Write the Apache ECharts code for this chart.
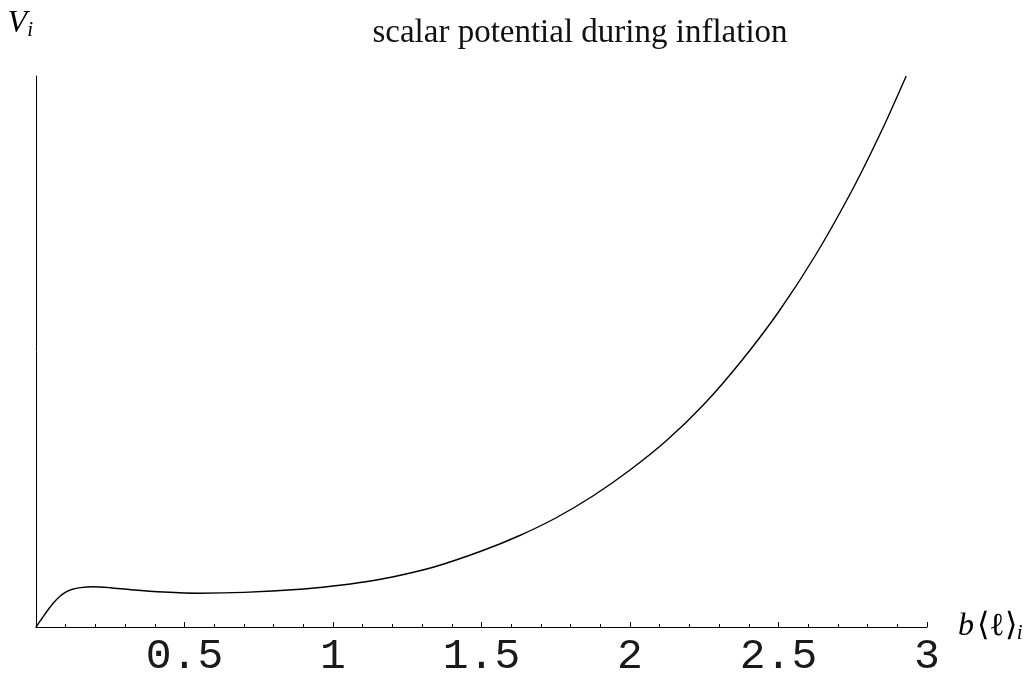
<!DOCTYPE html>
<html>
<head>
<meta charset="utf-8">
<script src="https://cdn.jsdelivr.net/npm/echarts@6/dist/echarts.min.js"></script>
<style>
html,body{margin:0;padding:0;background:#fff;}
#chart{width:1032px;height:681px;}
</style>
</head>
<body>
<div id="chart"></div>
<script>
// b<l>_i values (x) and scalar potential V_i (arbitrary units)
var bValues = [0, 0.02, 0.04, 0.06, 0.08, 0.10, 0.12, 0.15, 0.19, 0.25, 0.32, 0.43, 0.55, 0.70, 0.89, 1.00, 1.11, 1.20, 1.34, 1.50, 1.625, 1.75, 1.875, 2.00, 2.125, 2.25, 2.375, 2.50, 2.625, 2.75, 2.85, 2.93];
var vValues = [0, 8.5, 17, 24.5, 30.5, 34.8, 37.5, 39.4, 40.3, 39.3, 37.3, 35, 33.8, 34.6, 37.7, 41, 45.3, 50, 60, 76, 91, 109, 131, 157, 187, 223, 266, 315, 372, 438, 498, 551];
var xTicks = [0.5, 1, 1.5, 2, 2.5, 3];
var titleText = 'scalar potential during inflation';

var seriesData = bValues.map(function (b, i) { return [b, vValues[i]]; });

var chart = echarts.init(document.getElementById('chart'));
chart.setOption({
  animation: false,
  backgroundColor: '#ffffff',
  title: {
    text: titleText,
    left: 575,
    textAlign: 'center',
    top: 12,
    textStyle: { fontFamily: 'Liberation Serif', fontWeight: 'normal', fontSize: 33, color: '#111' }
  },
  grid: { left: 36, right: 105, top: 76, bottom: 54, outerBoundsMode: 'none' },
  xAxis: {
    type: 'value',
    min: 0,
    max: 3,
    interval: 0.5,
    name: '{a|b} {b|⟨ℓ⟩}{s|i}',
    nameLocation: 'end',
    nameGap: 31,
    nameTextStyle: {
      verticalAlign: 'middle',
      rich: {
        a: { fontFamily: 'Liberation Serif', fontStyle: 'italic', fontSize: 32, color: '#000', lineHeight: 34 },
        b: { fontFamily: 'Liberation Serif', fontSize: 32, color: '#000', lineHeight: 34 },
        s: { fontFamily: 'Liberation Serif', fontStyle: 'italic', fontSize: 21, color: '#000', lineHeight: 22, verticalAlign: 'bottom', padding: [16, 0, 0, 0] }
      }
    },
    axisLine: { show: true, onZero: false, lineStyle: { color: '#000', width: 1 } },
    axisTick: { show: true, inside: true, length: 5, lineStyle: { color: '#000', width: 1 } },
    minorTick: { show: true, splitNumber: 5, length: 3, lineStyle: { color: '#000', width: 1 } },
    splitLine: { show: false },
    axisLabel: {
      margin: 8,
      fontFamily: 'Liberation Mono',
      fontSize: 43,
      color: '#1a1a1a',
      formatter: function (v) {
        for (var i = 0; i < xTicks.length; i++) { if (Math.abs(xTicks[i] - v) < 1e-9) return String(xTicks[i]); }
        return '';
      }
    }
  },
  yAxis: {
    type: 'value',
    min: 0,
    max: 551,
    name: '{a|V}{s|i}',
    nameLocation: 'end',
    nameGap: 35,
    nameTextStyle: {
      align: 'right',
      padding: [0, 3, 0, 0],
      rich: {
        a: { fontFamily: 'Liberation Serif', fontStyle: 'italic', fontSize: 32, color: '#000', lineHeight: 34 },
        s: { fontFamily: 'Liberation Serif', fontStyle: 'italic', fontSize: 21, color: '#000', lineHeight: 22, verticalAlign: 'bottom', padding: [16, 0, 0, 0] }
      }
    },
    axisLine: { show: true, onZero: false, lineStyle: { color: '#000', width: 1 } },
    axisTick: { show: false },
    axisLabel: { show: false },
    splitLine: { show: false }
  },
  series: [{
    type: 'line',
    data: seriesData,
    smooth: 0.3,
    showSymbol: false,
    clip: true,
    lineStyle: { color: '#000', width: 1.4 }
  }]
});
</script>
</body>
</html>
